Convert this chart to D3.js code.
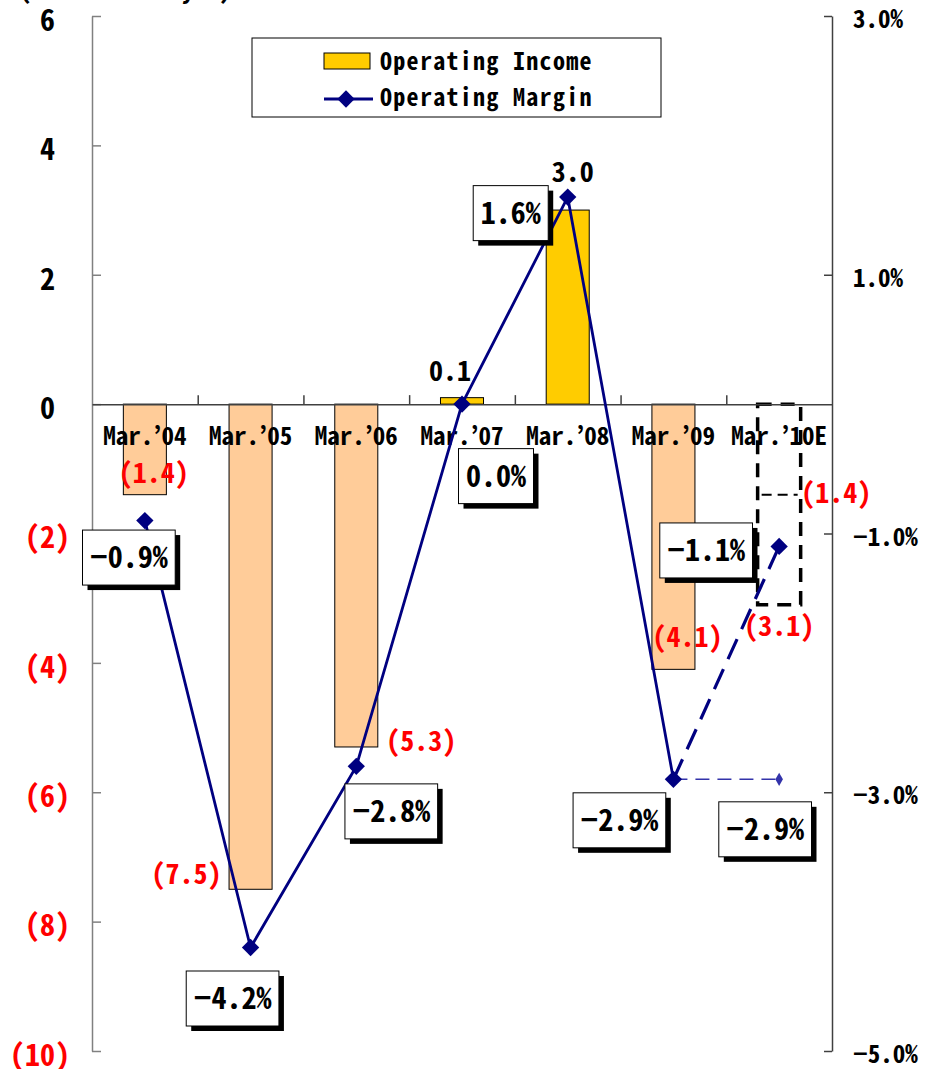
<!DOCTYPE html>
<html>
<head>
<meta charset="utf-8">
<script src="https://cdn.jsdelivr.net/npm/d3@7"></script>
<style>
  html, body { margin: 0; padding: 0; background: #fff; }
  svg { display: block; }
</style>
</head>
<body>
<svg id="chart" width="933" height="1069"></svg>
<script>
// ---- data (billions of yen / operating margin) ----
const categories = ["Mar.’04", "Mar.’05", "Mar.’06", "Mar.’07", "Mar.’08", "Mar.’09", "Mar.’10E"];
const operatingIncome = [-1.4, -7.5, -5.3, 0.1, 3.0, -4.1];        // actual years
const forecastFirstHalf = -1.4;                                     // Mar.'10E first half
const forecastFullYear = -3.1;                                      // Mar.'10E full year
const operatingMargin = [-0.009, -0.042, -0.028, 0.000, 0.016, -0.029];
const forecastMargin = -0.011;                                      // Mar.'10E
const previousForecastMargin = -0.029;                              // earlier Mar.'10E outlook
const leftTicks = [6, 4, 2, 0, -2, -4, -6, -8, -10];
const rightTicks = [0.03, 0.01, -0.01, -0.03, -0.05];
const unitLabel = "(Billions of yen)";
const legendLabels = ["Operating Income", "Operating Margin"];

// ---- label placement (offsets from each mark, px) ----
const incomeLabelOffset = [[9, -22], [-64, -15], [65, -6], [-12, -27], [5, -38], [14, -32]];
const firstHalfLabelOffset = [57, -2];
const fullYearLabelOffset = [0, 21];
const marginLabelOffset = [[-16, 37], [-18, 51], [35, 45], [34, 72], [-57, 16], [-54, 41]];
const forecastMarginLabelOffset = [-73, 4];
const previousMarginLabelOffset = [-14, 50];

// ---- layout ----
const plot = { left: 92, right: 832, top: 16, bottom: 1051 };
const svg = d3.select("#chart");

const x = d3.scaleBand().domain(categories)
  .range([plot.left, plot.right]).paddingInner(0.593).paddingOuter(0.2965);
const xEdge = d3.scaleLinear().domain([0, categories.length]).range([plot.left, plot.right]);
const yL = d3.scaleLinear().domain([-10, 6]).range([plot.bottom, plot.top]);
const yR = d3.scaleLinear().domain([-0.05, 0.03]).range([plot.bottom, plot.top]);
const cx = c => x(c) + x.bandwidth() / 2;

// Half-width monospace text; squeeze a wider mono face if that is what is available
const FONT = "'Noto Sans Mono CJK JP','Noto Sans Mono CJK SC','DejaVu Sans Mono','Liberation Mono',monospace";
const probe = svg.append("text").style("font-family", FONT).style("font-size", "100px")
  .style("font-weight", "bold").text("0000000000");
const sx = Math.min(1, 500 / probe.node().getComputedTextLength());
probe.remove();

function txt(parent, px, py, str, o) {
  const t = parent.append("text")
    .attr("transform", `translate(${px},${py}) scale(${sx},1)`)
    .attr("text-anchor", o.anchor || "middle")
    .style("font-family", FONT)
    .style("font-size", o.size + "px")
    .style("font-weight", o.weight || "bold")
    .attr("fill", o.fill || "#000")
    .text(str);
  if (o.ls) t.style("letter-spacing", o.ls + "px");
  return t;
}
// centre a line of text vertically on py
const mid = (size) => size * 0.36;

const MINUS = "\u2212";
const fmtIncome = v => v < 0 ? `(${d3.format(".1f")(-v)})` : d3.format(".1f")(v);
const fmtAxisL = v => v < 0 ? `(${-v})` : `${v}`;
const fmtPct = v => (v < -1e-9 ? MINUS : "") + d3.format(".1%")(Math.abs(v));

// ---- unit label (runs off the top edge) ----
txt(svg, 19, -1, unitLabel, { size: 25, anchor: "start" });

// ---- bars ----
const barG = svg.append("g");
barG.selectAll("rect").data(operatingIncome).join("rect")
  .attr("x", (d, i) => x(categories[i]))
  .attr("width", x.bandwidth())
  .attr("y", d => yL(Math.max(0, d)))
  .attr("height", d => Math.abs(yL(d) - yL(0)))
  .attr("fill", d => d < 0 ? "#FFCC99" : "#FFCC00")
  .attr("stroke", "#000").attr("stroke-width", 1);

// ---- Mar.'10E forecast outline ----
const fc = categories[6];
svg.append("rect")
  .attr("x", x(fc)).attr("width", x.bandwidth())
  .attr("y", yL(0)).attr("height", yL(forecastFullYear) - yL(0))
  .attr("fill", "none").attr("stroke", "#000").attr("stroke-width", 3.5)
  .attr("stroke-dasharray", "14,9");
svg.append("line")
  .attr("x1", x(fc) + 4).attr("x2", x(fc) + x.bandwidth() - 3)
  .attr("y1", yL(forecastFirstHalf)).attr("y2", yL(forecastFirstHalf))
  .attr("stroke", "#000").attr("stroke-width", 2).attr("stroke-dasharray", "10,6");

// ---- axes ----
const axL = svg.append("g").attr("transform", `translate(${plot.left},0)`)
  .call(d3.axisLeft(yL).tickValues(leftTicks).tickSize(-9).tickSizeOuter(0).tickFormat(""));
axL.selectAll("line, path").attr("stroke", "#808080").attr("stroke-width", 1.5);

const axR = svg.append("g").attr("transform", `translate(${plot.right},0)`)
  .call(d3.axisRight(yR).tickValues(rightTicks).tickSize(-8).tickSizeOuter(0).tickFormat(""));
axR.selectAll("line, path").attr("stroke", "#404040").attr("stroke-width", 1.5);

const axX = svg.append("g").attr("transform", `translate(0,${yL(0)})`)
  .call(d3.axisBottom(xEdge).tickValues(d3.range(1, categories.length)).tickSize(-9).tickSizeOuter(0).tickFormat(""));
axX.selectAll("line, path").attr("stroke", "#404040").attr("stroke-width", 1.5);

// axis labels
leftTicks.forEach(v => {
  const right = v < 0 ? 70 : 55;
  txt(svg, right, yL(v) + 4 + mid(30), fmtAxisL(v), { size: 30, anchor: "end", fill: v < 0 ? "#FF0000" : "#000" });
});
rightTicks.forEach(v => {
  txt(svg, 853, yR(v) + 3 + mid(25), fmtPct(v), { size: 25, anchor: "start" });
});
categories.forEach(c => {
  txt(svg, cx(c), yL(0) + 41, c, { size: 25 });
});

// ---- margin lines ----
const pts = operatingMargin.map((m, i) => [cx(categories[i]), yR(m)]);
const lastPt = pts[pts.length - 1];
const fcPt = [cx(fc), yR(forecastMargin)];
const prevPt = [cx(fc), yR(previousForecastMargin)];
const line = d3.line();

svg.append("path").attr("d", line([lastPt, prevPt]))
  .attr("fill", "none").attr("stroke", "#3333AA").attr("stroke-width", 1.5)
  .attr("stroke-dasharray", "14,8");
svg.append("path").attr("d", line(pts))
  .attr("fill", "none").attr("stroke", "#000080").attr("stroke-width", 2.8);
svg.append("path").attr("d", line([lastPt, fcPt]))
  .attr("fill", "none").attr("stroke", "#000080").attr("stroke-width", 3.2)
  .attr("stroke-dasharray", "22,11");

const marker = d3.symbol(d3.symbolSquare, 150)();
svg.append("g").selectAll("path").data([...pts, fcPt]).join("path")
  .attr("d", marker)
  .attr("transform", d => `translate(${d[0]},${d[1]}) rotate(45)`)
  .attr("fill", "#000080");
svg.append("path").attr("d", d3.symbol(d3.symbolDiamond, 50)())
  .attr("transform", `translate(${prevPt[0]},${prevPt[1]})`)
  .attr("fill", "#3333AA");

// ---- income value labels ----
operatingIncome.forEach((v, i) => {
  const [dx, dy] = incomeLabelOffset[i];
  txt(svg, cx(categories[i]) + dx, yL(v) + dy + mid(28), fmtIncome(v),
    { size: 28, fill: v < 0 ? "#FF0000" : "#000" });
});
txt(svg, cx(fc) + firstHalfLabelOffset[0], yL(forecastFirstHalf) + firstHalfLabelOffset[1] + mid(28),
  fmtIncome(forecastFirstHalf), { size: 28, fill: "#FF0000" });
txt(svg, cx(fc) + fullYearLabelOffset[0], yL(forecastFullYear) + fullYearLabelOffset[1] + mid(28),
  fmtIncome(forecastFullYear), { size: 28, fill: "#FF0000" });

// ---- margin value labels: white box with a drop shadow ----
function boxLabel(px, py, str) {
  const g = svg.append("g");
  const shadow = g.append("rect");
  const box = g.append("rect");
  const t = txt(g, px, py + mid(30), str, { size: 30 });
  const w = t.node().getComputedTextLength() * sx + 15;
  const h = 55;
  shadow.attr("x", px - w / 2 + 5).attr("y", py - h / 2 + 5).attr("width", w).attr("height", h).attr("fill", "#000");
  box.attr("x", px - w / 2).attr("y", py - h / 2).attr("width", w).attr("height", h)
    .attr("fill", "#fff").attr("stroke", "#000").attr("stroke-width", 1);
}
pts.forEach((p, i) => boxLabel(p[0] + marginLabelOffset[i][0], p[1] + marginLabelOffset[i][1], fmtPct(operatingMargin[i])));
boxLabel(fcPt[0] + forecastMarginLabelOffset[0], fcPt[1] + forecastMarginLabelOffset[1], fmtPct(forecastMargin));
boxLabel(prevPt[0] + previousMarginLabelOffset[0], prevPt[1] + previousMarginLabelOffset[1], fmtPct(previousForecastMargin));

// ---- legend ----
const lg = svg.append("g");
lg.append("rect").attr("x", 252).attr("y", 38).attr("width", 409).attr("height", 79)
  .attr("fill", "#fff").attr("stroke", "#000").attr("stroke-width", 1);
lg.append("rect").attr("x", 324).attr("y", 53).attr("width", 46).attr("height", 16)
  .attr("fill", "#FFCC00").attr("stroke", "#000").attr("stroke-width", 1);
lg.append("line").attr("x1", 324).attr("x2", 373).attr("y1", 99).attr("y2", 99)
  .attr("stroke", "#000080").attr("stroke-width", 2.8);
lg.append("path").attr("d", marker).attr("transform", "translate(346,99) rotate(45)").attr("fill", "#000080");
txt(lg, 380, 70, legendLabels[0], { size: 24, anchor: "start", ls: 1.3 });
txt(lg, 380, 106, legendLabels[1], { size: 24, anchor: "start", ls: 1.3 });
</script>
</body>
</html>
